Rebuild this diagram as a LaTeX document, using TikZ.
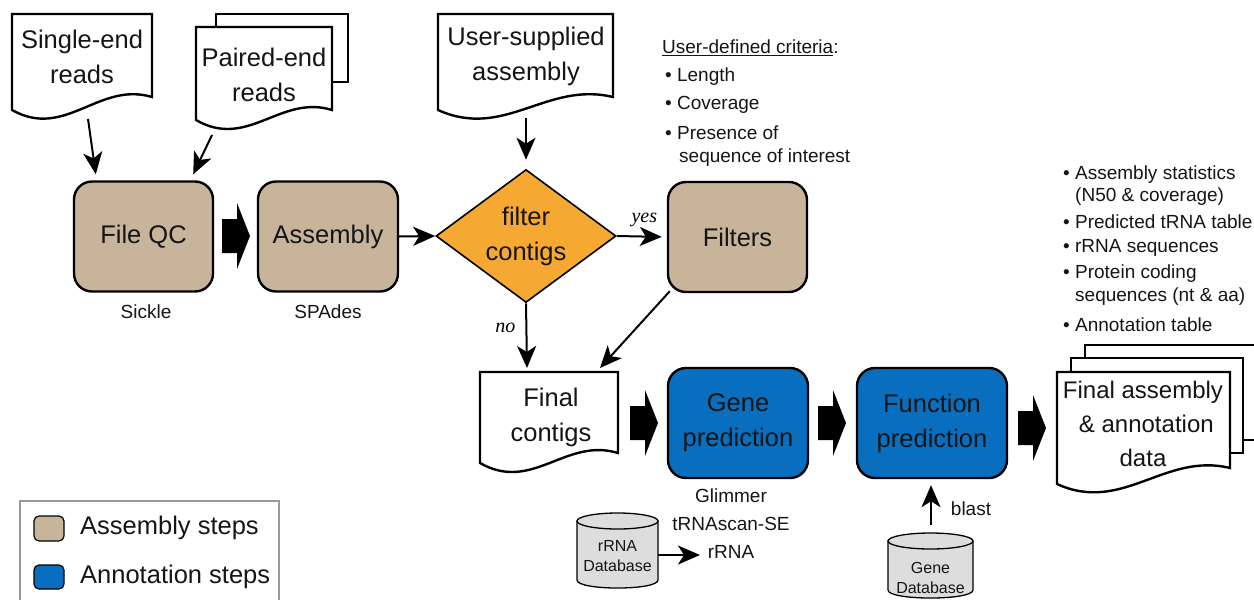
\documentclass[tikz,border=0pt]{standalone}
\usepackage{fontspec}
\setmainfont{Liberation Sans}
\newfontfamily\serifit{Liberation Serif}
\usetikzlibrary{arrows.meta,shapes.geometric,calc,positioning}
\definecolor{tanfill}{HTML}{C8B49B}
\definecolor{annblue}{HTML}{0A6EBE}
\definecolor{orng}{HTML}{F5A832}
\definecolor{dbgray}{HTML}{DDDDDD}
\definecolor{txt}{HTML}{151515}
\newcommand\docpath[5]{% x0, top, x1, yL, yR
  \path[docline] (#1,#2) -- (#3,#2) -- (#3,#5)
    .. controls ({#1+0.62*(#3-#1)},{#5-16}) and ({#1+0.38*(#3-#1)},{#4+30}) .. (#1,#4) -- cycle;}
\newcommand\blockarr[2]{% left x, centre y
  \fill[black] (#1,#2-17) -- (#1+15,#2-17) -- (#1+15,#2-33) -- (#1+28,#2) -- (#1+15,#2+33) -- (#1+15,#2+17) -- (#1,#2+17) -- cycle;}
\newcommand\dbcyl[4]{% x0, x1, top-ellipse centre y, bottom y
  \path[dbline] (#1,#3) -- (#1,#4) .. controls (#1,#4+10.7) and (#2,#4+10.7) .. (#2,#4) -- (#2,#3) -- cycle;
  \path[dbline] ({(#1+#2)/2},#3) ellipse [x radius={(#2-#1)/2*1pt}, y radius=8pt];}
\begin{document}
\begin{tikzpicture}[x=1pt,y=-1pt,
  big/.style={font=\fontsize{25.5}{35}\selectfont, align=center, text=txt, inner sep=0pt},
  mid/.style={font=\fontsize{24}{34}\selectfont, align=center, text=txt, inner sep=0pt},
  small/.style={font=\fontsize{19}{28}\selectfont, align=center, text=txt, inner sep=0pt},
  tiny/.style={font=\fontsize{16}{20}\selectfont, align=center, text=txt, inner sep=0pt},
  stepbox/.style={draw=black, line width=2.4pt, rounded corners=18pt, minimum height=110pt, big},
  asm/.style={stepbox, fill=tanfill},
  ann/.style={stepbox, fill=annblue},
  docline/.style={draw=black, line width=2.4pt, fill=white, line join=miter},
  dbline/.style={draw=black, line width=1.3pt, fill=dbgray},
  arr/.style={line width=2pt, -{Stealth[length=22pt,width=19pt,inset=6pt]}},
  lab/.style={font=\serifit\itshape\fontsize{20}{24}\selectfont, inner sep=0pt},
  bul/.style={font=\fontsize{19}{23}\selectfont, text=txt, anchor=west, inner sep=0pt}]
\useasboundingbox (0,0) rectangle (1254,600);

% ---------- input documents ----------
\docpath{12}{14}{152}{110}{97}
\node[big] (single) at (82,57) {Single-end\\reads};
\path[docline] (216,14) rectangle (348,82);
\docpath{196}{27}{332}{120}{110}
\node[big] (paired) at (264,75) {Paired-end\\reads};
\docpath{438}{14}{613}{110}{97}
\node[big] (user) at (526,56) {User-supplied\\assembly};

% ---------- assembly steps ----------
\node[asm, minimum width=139pt] (qc) at (143.5,236.5) {File QC};
\node[small] (sickle) at (146,312) {Sickle};
\node[asm, minimum width=140pt] (asmb) at (328,236.5) {Assembly};
\node[small] (spades) at (328,312) {SPAdes};
\blockarr{222}{236}

\node[diamond, draw=black, line width=1.6pt, fill=orng, aspect=1.35,
      minimum width=180pt, minimum height=133pt, inner sep=0pt, big] (filt) at (526,236) {filter\\contigs};
\node[asm, minimum width=139pt] (filters) at (737.5,237) {Filters};

% criteria text
\node[bul] (crit) at (662,48) {\underline{User-defined criteria}:};
\node[bul] (c1) at (665,77) {\textbullet\ Length};
\node[bul] (c2) at (665,105) {\textbullet\ Coverage};
\node[bul] (c3) at (665,133) {\textbullet\ Presence of};
\node[bul] (c4) at (679,158) {sequence of interest};

% ---------- final contigs ----------
\docpath{480}{372}{618}{463}{453}
\node[big] (fc) at (551,417) {Final\\contigs};
\coordinate (fcA) at (527,368);
\coordinate (fcB) at (600,368);

% ---------- annotation steps ----------
\blockarr{630}{423}
\node[ann, minimum width=140pt] (gene) at (738,423) {Gene\\prediction};
\blockarr{818}{423}
\node[ann, minimum width=150pt] (func) at (932,423) {Function\\prediction};
\blockarr{1018}{428}

% ---------- final assembly docs ----------
\path[docline] (1085,345) rectangle (1264,440);
\path[docline] (1071,358) rectangle (1243,453);
\docpath{1057}{372}{1230}{484}{468}
\node[mid] (final) at (1143,424) {Final assembly\\\ \& annotation\\data};

% output list
\node[bul] (o1) at (1063,175) {\textbullet\ Assembly statistics};
\node[bul] (o2) at (1075,197) {(N50 \& coverage)};
\node[bul] (o3) at (1063,222) {\textbullet\ Predicted tRNA table};
\node[bul] (o4) at (1063,248) {\textbullet\ rRNA sequences};
\node[bul] (o5) at (1063,274) {\textbullet\ Protein coding};
\node[bul] (o6) at (1075,297) {sequences (nt \& aa)};
\node[bul] (o7) at (1063,325) {\textbullet\ Annotation table};

% ---------- tools and databases ----------
\node[small] (tools) at (731,524) {Glimmer\\tRNAscan-SE\\rRNA};
\dbcyl{577}{658}{521}{580}
\node[tiny] (rdb) at (617.5,556) {rRNA\\Database};
\dbcyl{888}{973}{541}{590}
\node[tiny] (gdb) at (930.5,578) {Gene\\Database};
\node[small] (blast) at (971,509) {blast};

% ---------- connectors ----------
\coordinate (sB) at (88,119);
\coordinate (pB) at (212,135);
\draw[arr] (sB) -- ($(qc.north west)+(23,-6)$);
\draw[arr] (pB) -- ($(qc.north east)+(-21,-6)$);
\draw[arr] (asmb.east) -- (filt.west);
\coordinate (uB) at (526,118);
\draw[arr, shorten >=9pt] (uB) -- (filt.north);
\draw[arr, shorten >=5pt] (filt.east) -- node[lab, above=9pt, pos=0.55] {yes} (filters.west);
\draw[arr] (filt.south) -- node[lab, left=10pt, pos=0.38] {no} (fcA);
\draw[arr] ($(filters.south west)+(3,-2)$) -- (fcB);
\coordinate (rdbR) at (658,555);
\coordinate (toolsL) at (700,555);
\draw[arr] (rdbR) -- (toolsL);
\coordinate (gdbT) at (931,525);
\draw[arr, shorten >=6pt] (gdbT) -- (func.south -| gdbT);

% ---------- legend ----------
\draw[gray!80, line width=1.2pt] (20,501) rectangle (279,612);
\node[draw=black, line width=1.2pt, fill=tanfill, rounded corners=5pt, minimum width=30pt, minimum height=25pt, inner sep=0pt] (legA) at (49,528.5) {};
\node[big, anchor=west] (legAt) at (80,528) {Assembly steps};
\node[draw=black, line width=1.2pt, fill=annblue, rounded corners=5pt, minimum width=30pt, minimum height=24pt, inner sep=0pt] (legB) at (49,577) {};
\node[big, anchor=west] (legBt) at (80,577) {Annotation steps};
\end{tikzpicture}
\end{document}
